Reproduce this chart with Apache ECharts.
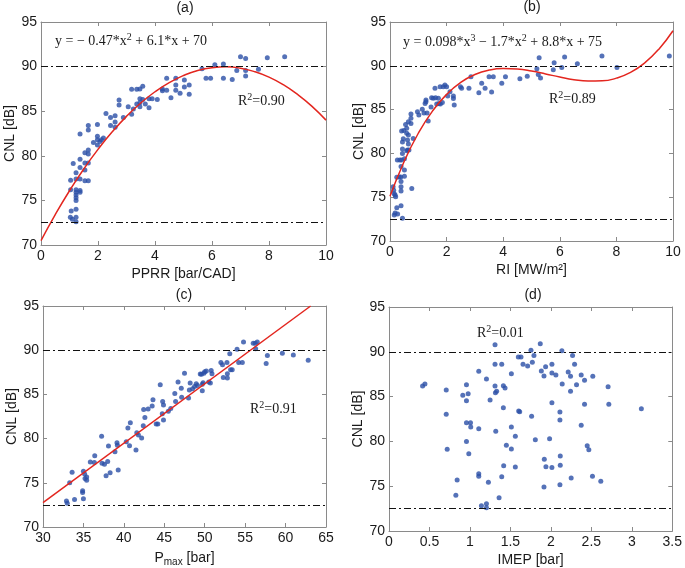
<!DOCTYPE html>
<html>
<head>
<meta charset="utf-8">
<script src="https://cdn.jsdelivr.net/npm/echarts@6/dist/echarts.min.js"></script>
<style>html,body{margin:0;padding:0;background:#fff}#c{width:685px;height:568px}</style>
</head>
<body>
<div id="c"></div>
<script>
// ---------- data ----------
const panelTitles = ['(a)', '(b)', '(c)', '(d)'];
const yTicks = [70, 75, 80, 85, 90, 95];
const thresholds = [90, 72.5];

// (a) CNL vs PPRR
const pprrPoints = [[1.04,77.25],[1.04,76.2],[1.06,73.8],[1.03,73.1],[1.1,72.9],[1.13,79.15],[1.23,78.1],[1.23,77.4],[1.23,76.2],[1.23,75.9],[1.23,75.6],[1.23,75.3],[1.23,75.0],[1.23,74.0],[1.23,73.1],[1.23,72.6],[1.37,82.45],[1.37,79.6],[1.37,78.7],[1.37,77.4],[1.37,76.1],[1.37,75.9],[1.54,80.35],[1.54,79.2],[1.54,78.4],[1.54,77.2],[1.66,83.4],[1.66,82.9],[1.66,80.65],[1.66,80.2],[1.66,79.2],[1.66,77.2],[1.84,81.5],[1.98,83.5],[1.98,82.2],[1.98,81.8],[1.98,81.2],[2.07,81.6],[2.12,81.8],[2.19,82.0],[2.28,84.75],[2.44,84.3],[2.44,83.4],[2.6,84.5],[2.6,83.8],[2.6,83.2],[2.74,86.25],[2.74,85.7],[2.89,84.3],[3.06,85.5],[3.18,87.45],[3.18,84.65],[3.24,85.25],[3.36,87.45],[3.36,85.8],[3.47,87.5],[3.47,86.4],[3.47,85.96],[3.47,85.5],[3.57,87.8],[3.57,86.3],[3.66,85.8],[3.79,86.4],[3.79,85.4],[3.9,86.4],[4.08,86.3],[4.26,87.5],[4.26,87.3],[4.41,88.7],[4.41,87.35],[4.56,86.5],[4.73,88.7],[4.73,87.95],[4.73,87.35],[4.88,87.0],[5.03,88.5],[5.03,87.7],[5.2,87.95],[5.2,86.9],[5.65,89.75],[5.79,88.7],[5.95,88.7],[6.1,90.2],[6.4,90.3],[6.4,88.7],[6.71,88.55],[6.87,89.55],[7.0,91.1],[7.18,90.9],[7.18,89.55],[7.18,88.95],[7.63,89.7],[7.94,91.0],[8.55,91.1]];
const pprrFit = [[0,70.5],[0.5,73.41],[1,76.08],[1.5,78.52],[2,80.72],[2.5,82.69],[3,84.42],[3.5,85.92],[4,87.18],[4.5,88.21],[5,89.0],[5.5,89.57],[6,89.88],[6.5,89.97],[7,89.82],[7.5,89.43],[8,88.82],[8.5,87.97],[9,86.88],[9.5,85.57],[10,84.0]];

// (b) CNL vs RI
const riPoints = [[0.15,72.97],[0.18,73.2],[0.27,73.08],[0.24,73.8],[0.39,74.03],[0.44,72.6],[0.11,76.2],[0.13,75.8],[0.15,75.4],[0.18,75.25],[0.2,75.06],[0.24,77.27],[0.26,79.24],[0.33,77.3],[0.35,79.24],[0.38,77.3],[0.39,76.2],[0.39,75.7],[0.39,76.8],[0.39,78.5],[0.41,79.24],[0.44,80.0],[0.44,80.5],[0.44,81.3],[0.47,81.68],[0.49,82.6],[0.41,82.56],[0.51,79.4],[0.51,78.1],[0.51,77.4],[0.55,83.3],[0.59,82.86],[0.59,82.3],[0.62,81.53],[0.65,82.1],[0.65,81.07],[0.62,80.4],[0.59,80.3],[0.65,83.6],[0.74,83.4],[0.74,84.0],[0.74,84.5],[0.77,76.0],[0.67,80.4],[0.82,81.7],[0.97,84.76],[1.02,84.38],[1.14,85.03],[1.2,84.6],[1.24,85.7],[1.27,85.9],[1.27,86.1],[1.31,84.6],[1.35,83.7],[1.45,85.3],[1.47,86.36],[1.53,86.3],[1.59,87.43],[1.61,86.36],[1.65,85.64],[1.71,86.3],[1.73,85.7],[1.78,85.64],[1.85,85.8],[1.77,87.6],[1.88,87.6],[1.94,87.8],[2.0,87.6],[2.04,86.55],[2.12,87.05],[2.24,86.55],[2.24,86.28],[2.27,85.52],[2.49,87.6],[2.53,87.43],[2.79,87.43],[2.86,88.76],[3.14,86.93],[3.24,88.0],[3.36,87.43],[3.5,88.76],[3.59,87.0],[3.65,88.76],[3.95,88.0],[4.08,88.76],[4.59,88.53],[4.85,88.8],[5.19,89.67],[5.27,90.93],[5.24,89.0],[5.32,88.6],[5.77,89.56],[5.8,90.36],[6.07,89.8],[6.17,91.0],[6.62,90.24],[7.49,91.12],[8.02,89.8],[9.87,91.12]];
const riFit = [[0,75.1],[0.5,79.08],[1,82.3],[1.5,84.83],[2,86.74],[2.5,88.11],[3,89.0],[3.5,89.51],[4,89.69],[4.5,89.63],[5,89.4],[5.5,89.07],[6,88.72],[6.5,88.42],[7,88.26],[7.5,88.28],[8,88.59],[8.5,89.24],[9,90.33],[9.5,91.9],[10,94.0]];

// (c) CNL vs Pmax
const pmaxPoints = [[32.9,72.94],[33.0,72.7],[33.3,75.0],[33.6,76.2],[33.9,73.1],[34.9,74.1],[34.9,73.9],[35.0,73.2],[35.0,76.3],[35.15,76.0],[35.2,75.5],[35.4,75.3],[35.4,75.65],[35.85,77.35],[36.4,78.07],[36.35,77.3],[37.25,80.26],[37.3,77.2],[37.6,77.1],[38.0,77.4],[37.8,75.8],[38.3,76.15],[38.1,79.16],[38.9,78.5],[39.15,79.54],[39.2,79.24],[39.3,76.45],[40.5,81.2],[40.8,81.8],[40.3,79.65],[40.7,79.2],[41.5,78.7],[41.6,80.67],[41.8,80.4],[42.2,80.07],[42.4,81.46],[42.45,83.3],[42.6,82.4],[43.0,83.35],[43.6,84.4],[43.5,83.7],[44.0,81.65],[44.2,81.65],[44.5,86.1],[44.8,84.2],[44.9,83.8],[44.75,82.8],[44.9,82.1],[45.5,83.1],[45.8,83.4],[46.3,85.1],[46.4,84.2],[46.7,86.4],[47.1,85.7],[47.15,84.67],[47.5,87.4],[48.0,84.6],[48.2,86.3],[48.1,85.5],[48.5,85.65],[48.75,85.9],[48.95,86.2],[49.1,86.0],[49.45,87.3],[49.6,87.27],[49.7,85.4],[49.8,86.33],[49.7,86.14],[49.9,87.4],[50.0,87.57],[50.2,87.65],[50.5,86.4],[50.7,86.3],[50.8,87.7],[50.9,87.35],[52.0,88.6],[52.2,88.36],[52.75,88.6],[52.8,87.35],[52.3,86.9],[52.8,86.85],[53.1,89.6],[53.2,87.8],[53.4,87.8],[54.0,90.1],[54.2,88.6],[54.65,88.6],[54.8,90.93],[56.0,90.8],[56.25,90.78],[56.5,90.93],[56.3,90.17],[57.6,88.5],[57.75,89.4],[59.6,89.65],[60.96,89.46],[62.8,88.85]];
const pmaxFit = [[30,72.75],[63.1,95]];

// (d) CNL vs IMEP
const imepPoints = [[0.415,86.18],[0.444,86.4],[0.707,85.74],[0.707,83.02],[0.719,79.11],[0.842,75.69],[0.826,73.98],[0.912,85.14],[0.957,86.33],[0.978,85.33],[0.957,84.55],[0.957,82.09],[1.007,82.09],[1.01,81.61],[0.957,80.0],[0.986,78.63],[1.109,87.82],[1.109,81.42],[1.109,76.4],[1.109,76.1],[1.142,72.83],[1.204,86.96],[1.204,73.05],[1.204,72.6],[1.228,75.43],[1.249,84.62],[1.31,90.8],[1.31,88.6],[1.31,86.18],[1.315,85.44],[1.33,85.59],[1.319,81.12],[1.36,73.72],[1.393,88.6],[1.393,76.06],[1.413,86.22],[1.434,85.96],[1.413,83.76],[1.417,77.29],[1.45,79.56],[1.512,87.56],[1.512,81.61],[1.512,79.15],[1.561,80.57],[1.561,77.14],[1.598,89.42],[1.631,89.42],[1.602,83.39],[1.615,83.32],[1.656,88.6],[1.713,88.42],[1.754,90.16],[1.771,88.82],[1.791,89.6],[1.762,82.8],[1.808,80.19],[1.869,90.91],[1.882,87.86],[1.935,88.34],[1.915,87.3],[1.919,78.0],[1.939,77.18],[1.915,74.91],[1.984,80.3],[2.013,88.6],[2.013,87.63],[2.013,84.32],[2.013,77.1],[2.062,87.41],[2.112,83.28],[2.112,82.39],[2.116,78.37],[2.116,77.33],[2.112,75.17],[2.136,90.13],[2.14,86.41],[2.214,87.75],[2.243,87.26],[2.243,85.59],[2.251,75.92],[2.268,89.6],[2.293,88.6],[2.317,86.33],[2.375,81.79],[2.375,87.41],[2.416,86.82],[2.416,84.14],[2.449,79.52],[2.469,79.08],[2.518,87.26],[2.514,76.1],[2.617,75.54],[2.707,86.11],[2.716,84.14],[3.118,83.65]];

// axis ranges: [min, max, interval]
const xRanges = [[0,10,2],[0,10,2],[30,65,5],[0,3.5,0.5]];
const yRange = [70,95,5];
const xNames = ['PPRR [bar/CAD]', 'RI [MW/m²]', '{n|P}{s|max}{n| [bar]}', 'IMEP [bar]'];
const yName = 'CNL [dB]';
const equations = ['{n|y = − 0.47*x}{s|2}{n| + 6.1*x + 70}', '{n|y = 0.098*x}{s|3}{n| − 1.7*x}{s|2}{n| + 8.8*x + 75}'];
const r2Texts = ['{n|R}{s|2}{n|=0.90}', '{n|R}{s|2}{n|=0.89}', '{n|R}{s|2}{n|=0.91}', '{n|R}{s|2}{n|=0.01}'];

// ---------- layout / style ----------
const grids = [
  {left: 41, top: 22, width: 285, height: 223},
  {left: 390, top: 22, width: 283, height: 219},
  {left: 43, top: 306, width: 283, height: 221},
  {left: 389, top: 307, width: 284, height: 224}
];
const AX = '#8a8a8a';
const SANS = 'Liberation Sans, Arial, sans-serif';
const SERIF = 'Liberation Serif, Times New Roman, serif';
const DOT = '#2b4fa6';
const RED = '#e3261f';

const xAxes = [], yAxes = [];
grids.forEach((g, i) => {
  const [mn, mx, iv] = xRanges[i];
  const base = {
    gridIndex: i, type: 'value', min: mn, max: mx, interval: iv,
    axisLine: {show: true, onZero: false, lineStyle: {color: AX, width: 1}},
    axisTick: {show: true, inside: true, length: 4, lineStyle: {color: AX}},
    splitLine: {show: false}
  };
  xAxes.push(Object.assign({}, base, {
    position: 'bottom',
    axisLabel: {color: '#1a1a1a', fontSize: 14, fontFamily: SANS, margin: 4},
    name: xNames[i], nameLocation: 'middle', nameGap: 22,
    nameTextStyle: {color: '#1a1a1a', fontSize: 14, fontFamily: SANS,
      rich: {n: {fontSize: 14, fontFamily: SANS, color: '#1a1a1a', lineHeight: 18},
             s: {fontSize: 10, fontFamily: SANS, color: '#1a1a1a', verticalAlign: 'bottom', lineHeight: 10}}}
  }));
  xAxes.push(Object.assign({}, base, {position: 'top', axisLabel: {show: false}}));
  const ybase = {
    gridIndex: i, type: 'value', min: yRange[0], max: yRange[1], interval: yRange[2],
    axisLine: {show: true, onZero: false, lineStyle: {color: AX, width: 1}},
    axisTick: {show: true, inside: true, length: 4, lineStyle: {color: AX}},
    splitLine: {show: false}
  };
  yAxes.push(Object.assign({}, ybase, {
    position: 'left',
    axisLabel: {color: '#1a1a1a', fontSize: 14, fontFamily: SANS, margin: 4},
    name: yName, nameLocation: 'middle', nameRotate: 90, nameGap: 24,
    nameTextStyle: {color: '#1a1a1a', fontSize: 14, fontFamily: SANS}
  }));
  yAxes.push(Object.assign({}, ybase, {position: 'right', axisLabel: {show: false}}));
});

const markLine = {
  silent: true, symbol: 'none', label: {show: false},
  lineStyle: {color: '#111', width: 1, type: [7, 3, 2, 3]},
  data: thresholds.map(v => ({yAxis: v}))
};

const pointSets = [pprrPoints, riPoints, pmaxPoints, imepPoints];
const fits = [pprrFit, riFit, pmaxFit, null];
const series = [];
pointSets.forEach((pts, i) => {
  series.push({
    type: 'scatter', xAxisIndex: 2 * i, yAxisIndex: 2 * i, data: pts,
    symbol: 'circle', symbolSize: 5, itemStyle: {color: DOT}, z: 3,
    markLine: markLine
  });
  if (fits[i]) {
    series.push({
      type: 'line', xAxisIndex: 2 * i, yAxisIndex: 2 * i, data: fits[i],
      smooth: fits[i].length > 2 ? 0.5 : false, showSymbol: false, clip: true,
      lineStyle: {color: RED, width: 1.5}, z: 4
    });
  }
});

const richSerif = {
  n: {fontSize: 14, fontFamily: SERIF, fill: '#1a1a1a', color: '#1a1a1a', lineHeight: 18},
  s: {fontSize: 10, fontFamily: SERIF, fill: '#1a1a1a', color: '#1a1a1a', verticalAlign: 'top', lineHeight: 11}
};
function txt(text, x, y, opts) {
  return Object.assign({type: 'text', x: x, y: y, silent: true,
    style: Object.assign({text: text, fill: '#1a1a1a', align: 'left', verticalAlign: 'middle'}, opts)});
}
const titlePos = [[185, 8], [532, 7], [184, 295], [533, 295]];
const eqPos = [[55, 41], [403, 42]];
const r2Pos = [[238, 101], [549, 99], [250, 409], [477, 333]];
const graphic = [];
titlePos.forEach((p, i) => graphic.push(txt(panelTitles[i], p[0], p[1], {align: 'center', fontSize: 14, fontFamily: SANS})));
eqPos.forEach((p, i) => graphic.push(txt(equations[i], p[0], p[1], {rich: richSerif})));
r2Pos.forEach((p, i) => graphic.push(txt(r2Texts[i], p[0], p[1], {rich: richSerif})));

const chart = echarts.init(document.getElementById('c'), null, {renderer: 'canvas'});
chart.setOption({
  animation: false,
  backgroundColor: '#fff',
  grid: grids,
  xAxis: xAxes,
  yAxis: yAxes,
  series: series,
  graphic: graphic
});
</script>
</body>
</html>
